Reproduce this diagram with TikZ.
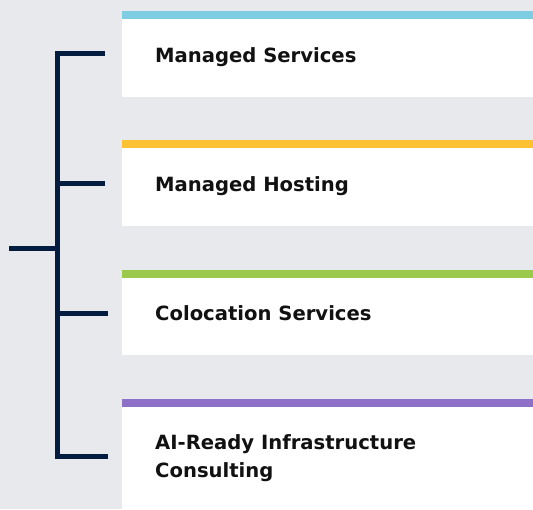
\documentclass[tikz,border=0pt]{standalone}
\usepackage{fontspec}
\setmainfont{DejaVu Sans}
\definecolor{bg}{HTML}{E8E9EC}
\definecolor{navy}{HTML}{041C40}
\definecolor{barblue}{HTML}{7ECDE3}
\definecolor{baryellow}{HTML}{FCC234}
\definecolor{bargreen}{HTML}{9BC94B}
\definecolor{barpurple}{HTML}{8E70C9}
\definecolor{txt}{HTML}{111111}
\begin{document}
\begin{tikzpicture}[x=1pt,y=-1pt,
  card/.style={fill=white,draw=none},
  label/.style={anchor=base west,inner sep=0pt,text=txt,font=\fontsize{19.6}{28}\selectfont\bfseries,align=left},
  brace/.style={draw=navy,line width=5pt,line join=miter,line cap=butt}]
\fill[bg] (0,0) rectangle (533,509);
\useasboundingbox (0,0) rectangle (533,509);
% cards
\fill[card] (122,19) rectangle (533,97);
\fill[barblue] (122,11) rectangle (533,19);
\fill[card] (122,148) rectangle (533,226);
\fill[baryellow] (122,140) rectangle (533,148);
\fill[card] (122,278) rectangle (533,355);
\fill[bargreen] (122,270) rectangle (533,278);
\fill[card] (122,407) rectangle (533,509);
\fill[barpurple] (122,399) rectangle (533,407);
% labels
\node[label] (s1) at (155,62) {Managed Services};
\node[label] (s2) at (155,191) {Managed Hosting};
\node[label] (s3) at (155,320) {Colocation Services};
\node[label] (s4) at (155,477) {AI-Ready Infrastructure\\Consulting};
% bracket
\coordinate (root) at (9,248);
\coordinate (j0) at (57,248);
\coordinate (jt) at (57,53.5);
\coordinate (j2) at (57,183);
\coordinate (j3) at (57,313);
\coordinate (jb) at (57,456.5);
\coordinate (e1) at (105,53.5);
\coordinate (e2) at (105,183);
\coordinate (e3) at (108,313);
\coordinate (e4) at (108,456.5);
\draw[brace] (e1) -- (jt) -- (jb) -- (e4);
\draw[brace] (j2) -- (e2);
\draw[brace] (j3) -- (e3);
\draw[brace] (root) -- (j0);
\end{tikzpicture}
\end{document}
